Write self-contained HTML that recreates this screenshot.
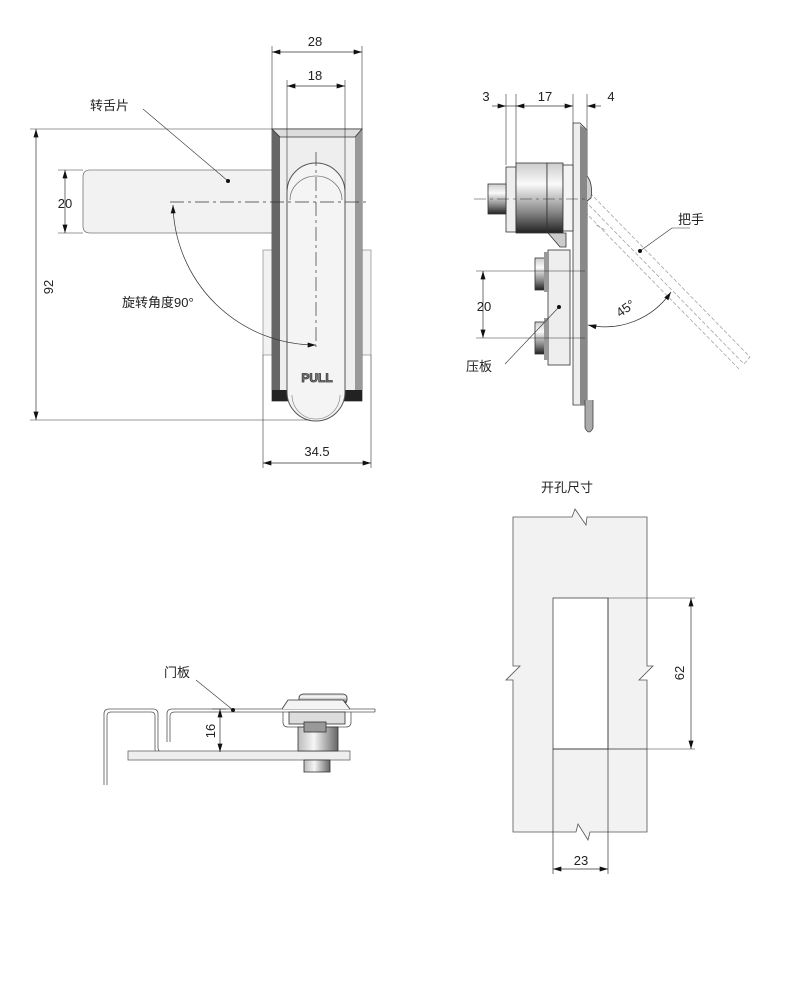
<!DOCTYPE html>
<html><head><meta charset="utf-8"><style>
html,body{margin:0;padding:0;background:#fff;}
svg{display:block;}
text{font-family:"Liberation Sans","Noto Sans CJK SC",sans-serif;fill:#222;font-size:13px;}
</style></head><body>
<svg width="788" height="1000" viewBox="0 0 788 1000" xmlns="http://www.w3.org/2000/svg">
<defs>
<marker id="a" viewBox="0 0 10 6" refX="10" refY="3" markerWidth="9" markerHeight="5" orient="auto-start-reverse" markerUnits="userSpaceOnUse"><path d="M0,0L10,3L0,6z" fill="#111"/></marker>
<linearGradient id="cyl" x1="0" y1="0" x2="0" y2="1"><stop offset="0" stop-color="#ccc"/><stop offset="0.3" stop-color="#fafafa"/><stop offset="0.7" stop-color="#888"/><stop offset="1" stop-color="#222"/></linearGradient>
<linearGradient id="cylv" x1="0" y1="0" x2="1" y2="0"><stop offset="0" stop-color="#bbb"/><stop offset="0.4" stop-color="#f5f5f5"/><stop offset="1" stop-color="#666"/></linearGradient>
</defs>
<g stroke="#333" stroke-width="0.8" fill="none">
<rect x="263" y="250" width="108" height="105" fill="#f2f2f2" stroke="#999"/>
<path d="M272,170 H90 Q83,170 83,177 V226 Q83,233 90,233 H272" fill="#f2f2f2" stroke="#777"/>
<rect x="272" y="129" width="90" height="272" fill="#eee" stroke="#444"/>
<path d="M272,129 L280,137 V398 L272,401z" fill="#666" stroke="none"/>
<path d="M362,129 L355,137 V398 L362,401z" fill="#999" stroke="none"/>
<path d="M272,129 H362 L355,137 H280z" fill="#ddd"/>
<path d="M272,390 L290,390 290,401 272,401z" fill="#222" stroke="none"/>
<path d="M362,390 L342,390 342,401 362,401z" fill="#222" stroke="none"/>
<path d="M287,192 A29,29 0 0 1 345,192 V392 A29,29 0 0 1 287,392z" fill="#f4f4f4" stroke="#555" stroke-width="1"/>
<path d="M290,200 A26,24 0 0 1 342,200" stroke="#777"/>
<path d="M292,395 A24,24 0 0 0 340,395" stroke="#999"/>
<text x="317" y="382" text-anchor="middle" style="font-size:12px;font-weight:bold;fill:#888">PULL</text>
<line x1="170" y1="202" x2="366" y2="202" stroke-dasharray="14,4,3,4" stroke-width="0.7"/>
<line x1="316" y1="152" x2="316" y2="347" stroke-dasharray="14,4,3,4" stroke-width="0.7"/>
<path d="M173,205 A143,143 0 0 0 316,345" marker-start="url(#a)" marker-end="url(#a)" stroke-width="0.7"/>
<line x1="272" y1="46" x2="272" y2="129" stroke-width="0.6"/>
<line x1="362" y1="46" x2="362" y2="129" stroke-width="0.6"/>
<line x1="272" y1="52" x2="362" y2="52" marker-start="url(#a)" marker-end="url(#a)" stroke-width="0.7"/>
<line x1="287" y1="80" x2="287" y2="190" stroke-width="0.6"/>
<line x1="345" y1="80" x2="345" y2="190" stroke-width="0.6"/>
<line x1="287" y1="86" x2="345" y2="86" marker-start="url(#a)" marker-end="url(#a)" stroke-width="0.7"/>
<line x1="30" y1="129" x2="272" y2="129" stroke-width="0.6"/>
<line x1="30" y1="420" x2="310" y2="420" stroke-width="0.6"/>
<line x1="36" y1="129" x2="36" y2="420" marker-start="url(#a)" marker-end="url(#a)" stroke-width="0.7"/>
<line x1="58" y1="170" x2="83" y2="170" stroke-width="0.6"/>
<line x1="58" y1="233" x2="83" y2="233" stroke-width="0.6"/>
<line x1="65" y1="170" x2="65" y2="233" marker-start="url(#a)" marker-end="url(#a)" stroke-width="0.7"/>
<line x1="263" y1="355" x2="263" y2="468" stroke-width="0.6"/>
<line x1="371" y1="355" x2="371" y2="468" stroke-width="0.6"/>
<line x1="263" y1="463" x2="371" y2="463" marker-start="url(#a)" marker-end="url(#a)" stroke-width="0.7"/>
<line x1="143" y1="109" x2="228" y2="181" stroke-width="0.6"/>
<circle cx="228" cy="181" r="2" fill="#111" stroke="none"/>

<line x1="506" y1="94" x2="506" y2="165" stroke-width="0.6"/>
<line x1="516" y1="94" x2="516" y2="165" stroke-width="0.6"/>
<line x1="573" y1="94" x2="573" y2="123" stroke-width="0.6"/>
<line x1="587" y1="94" x2="587" y2="130" stroke-width="0.6"/>
<line x1="492" y1="106" x2="506" y2="106" marker-end="url(#a)" stroke-width="0.7"/>
<line x1="516" y1="106" x2="573" y2="106" marker-start="url(#a)" marker-end="url(#a)" stroke-width="0.7"/>
<line x1="601" y1="106" x2="587" y2="106" marker-end="url(#a)" stroke-width="0.7"/>
<line x1="506" y1="106" x2="516" y2="106" stroke-width="0.7"/>
<g stroke="#999" stroke-dasharray="4,2" stroke-width="0.7">
<path d="M590,193 L750,357 L744,364 L584,200"/>
<path d="M585,212 L740,370"/>
<path d="M596,225 L605,230"/>
</g>
<path d="M573,123 L580,123 L587,130 V405 L573,405z" fill="#eee"/>
<path d="M580,125 L587,130 V405 L580,405z" fill="#888" stroke="none"/>
<path d="M585,400 V428 Q589,436 593,428 V400" fill="#aaa" stroke="#444"/>
<path d="M587,176 Q593,183 591,198 L587,201" fill="#ccc"/>
<rect x="506" y="167" width="10" height="65" fill="#eee"/>
<rect x="516" y="163" width="31" height="70" fill="url(#cyl)"/>
<rect x="547" y="163" width="16" height="70" fill="url(#cyl)"/>
<rect x="563" y="165" width="10" height="66" fill="#f4f4f4"/>
<rect x="488" y="184" width="18" height="30" fill="url(#cyl)"/>
<path d="M548,233 L560,247 L566,247 L566,233z" fill="#ccc"/>
<line x1="474" y1="199" x2="586" y2="199" stroke-dasharray="12,4,3,4" stroke-width="0.6"/>
<rect x="548" y="250" width="22" height="115" fill="#eee"/>
<rect x="535" y="258" width="13" height="32" fill="url(#cyl)"/>
<rect x="535" y="322" width="13" height="32" fill="url(#cyl)"/>
<rect x="544" y="252" width="5" height="40" fill="#999" stroke="none"/>
<rect x="544" y="318" width="5" height="42" fill="#999" stroke="none"/>
<line x1="476" y1="271" x2="585" y2="271" stroke-width="0.6"/>
<line x1="476" y1="338" x2="585" y2="338" stroke-width="0.6"/>
<line x1="483" y1="271" x2="483" y2="338" marker-start="url(#a)" marker-end="url(#a)" stroke-width="0.7"/>
<path d="M588,325 A80,80 0 0 0 671,292" marker-start="url(#a)" marker-end="url(#a)" stroke-width="0.7"/>
<line x1="505" y1="364" x2="559" y2="307" stroke-width="0.6"/>
<circle cx="559" cy="307" r="2" fill="#111" stroke="none"/>
<line x1="640" y1="251" x2="672" y2="228" stroke-width="0.6"/>
<line x1="672" y1="228" x2="690" y2="228" stroke-width="0.6"/>
<circle cx="640" cy="251" r="2" fill="#111" stroke="none"/>

<g stroke="#555" stroke-width="0.8">
<path d="M104,785 V714 Q104,709 109,709 H153 Q158,709 158,714 V748 Q158,752 163,752 H191"/>
<path d="M107,785 V716 Q107,712 111,712 H151 Q155,712 155,716 V749 Q155,755 161,755 H191"/>
<path d="M191,752 V755"/>
<path d="M167,742 V714 Q167,709 172,709 H375"/>
<path d="M170,742 V716 Q170,712 175,712 H375"/>
<path d="M375,709 V712"/>
</g>
<rect x="128" y="751" width="222" height="9" fill="#eee" stroke="#666"/>
<rect x="299" y="694" width="48" height="10" rx="4" fill="url(#cyl)"/>
<path d="M282,709 L288,700 H343 L350,709" fill="#f4f4f4"/>
<path d="M283,712 V722 Q283,727 288,727 H346 Q351,727 351,722 V712" stroke="#555"/>
<rect x="289" y="712" width="56" height="12" fill="#ddd"/>
<rect x="298" y="727" width="40" height="24" fill="url(#cylv)"/>
<rect x="304" y="722" width="22" height="10" fill="#999"/>
<rect x="304" y="760" width="26" height="12" fill="url(#cylv)"/>
<line x1="212" y1="709" x2="226" y2="709" stroke-width="0.6"/>
<line x1="220" y1="709" x2="220" y2="752" marker-start="url(#a)" marker-end="url(#a)" stroke-width="0.7"/>
<line x1="196" y1="680" x2="233" y2="710" stroke-width="0.6"/>
<circle cx="233" cy="710" r="2" fill="#111" stroke="none"/>

<path d="M513,517 H572 L575,509 L586,525 L587,517 H647 V666 L653,666 L639,680 L647,680 V832 H590 L588,840 L578,824 L576,832 H513 V680 L506,680 L520,666 L513,666 Z" fill="#f2f2f2" stroke="#555"/>
<rect x="553" y="598" width="55" height="151" fill="#fff" stroke="#444"/>
<line x1="608" y1="598" x2="608" y2="874" stroke-width="0.7"/>
<line x1="553" y1="749" x2="553" y2="874" stroke-width="0.7"/>
<line x1="553" y1="749" x2="647" y2="749" stroke-width="0.7"/>
<line x1="608" y1="598" x2="695" y2="598" stroke-width="0.6"/>
<line x1="647" y1="749" x2="695" y2="749" stroke-width="0.6"/>
<line x1="691" y1="598" x2="691" y2="749" marker-start="url(#a)" marker-end="url(#a)" stroke-width="0.7"/>
<line x1="553" y1="869" x2="608" y2="869" marker-start="url(#a)" marker-end="url(#a)" stroke-width="0.7"/>
</g>

<text x="315" y="46" text-anchor="middle">28</text>
<text x="315" y="80" text-anchor="middle">18</text>
<text x="90" y="110">转舌片</text>
<text x="65" y="208" text-anchor="middle">20</text>
<text transform="translate(53,287) rotate(-90)" text-anchor="middle">92</text>
<text x="122" y="307">旋转角度90°</text>
<text x="317" y="456" text-anchor="middle">34.5</text>
<text x="486" y="101" text-anchor="middle">3</text>
<text x="545" y="101" text-anchor="middle">17</text>
<text x="611" y="101" text-anchor="middle">4</text>
<text x="678" y="224">把手</text>
<text x="484" y="311" text-anchor="middle">20</text>
<text transform="translate(628,312) rotate(-35)" text-anchor="middle">45°</text>
<text x="466" y="371">压板</text>
<text x="164" y="677">门板</text>
<text transform="translate(215,731) rotate(-90)" text-anchor="middle">16</text>
<text x="541" y="492">开孔尺寸</text>
<text transform="translate(684,673) rotate(-90)" text-anchor="middle">62</text>
<text x="581" y="865" text-anchor="middle">23</text>
</svg>
</body></html>
